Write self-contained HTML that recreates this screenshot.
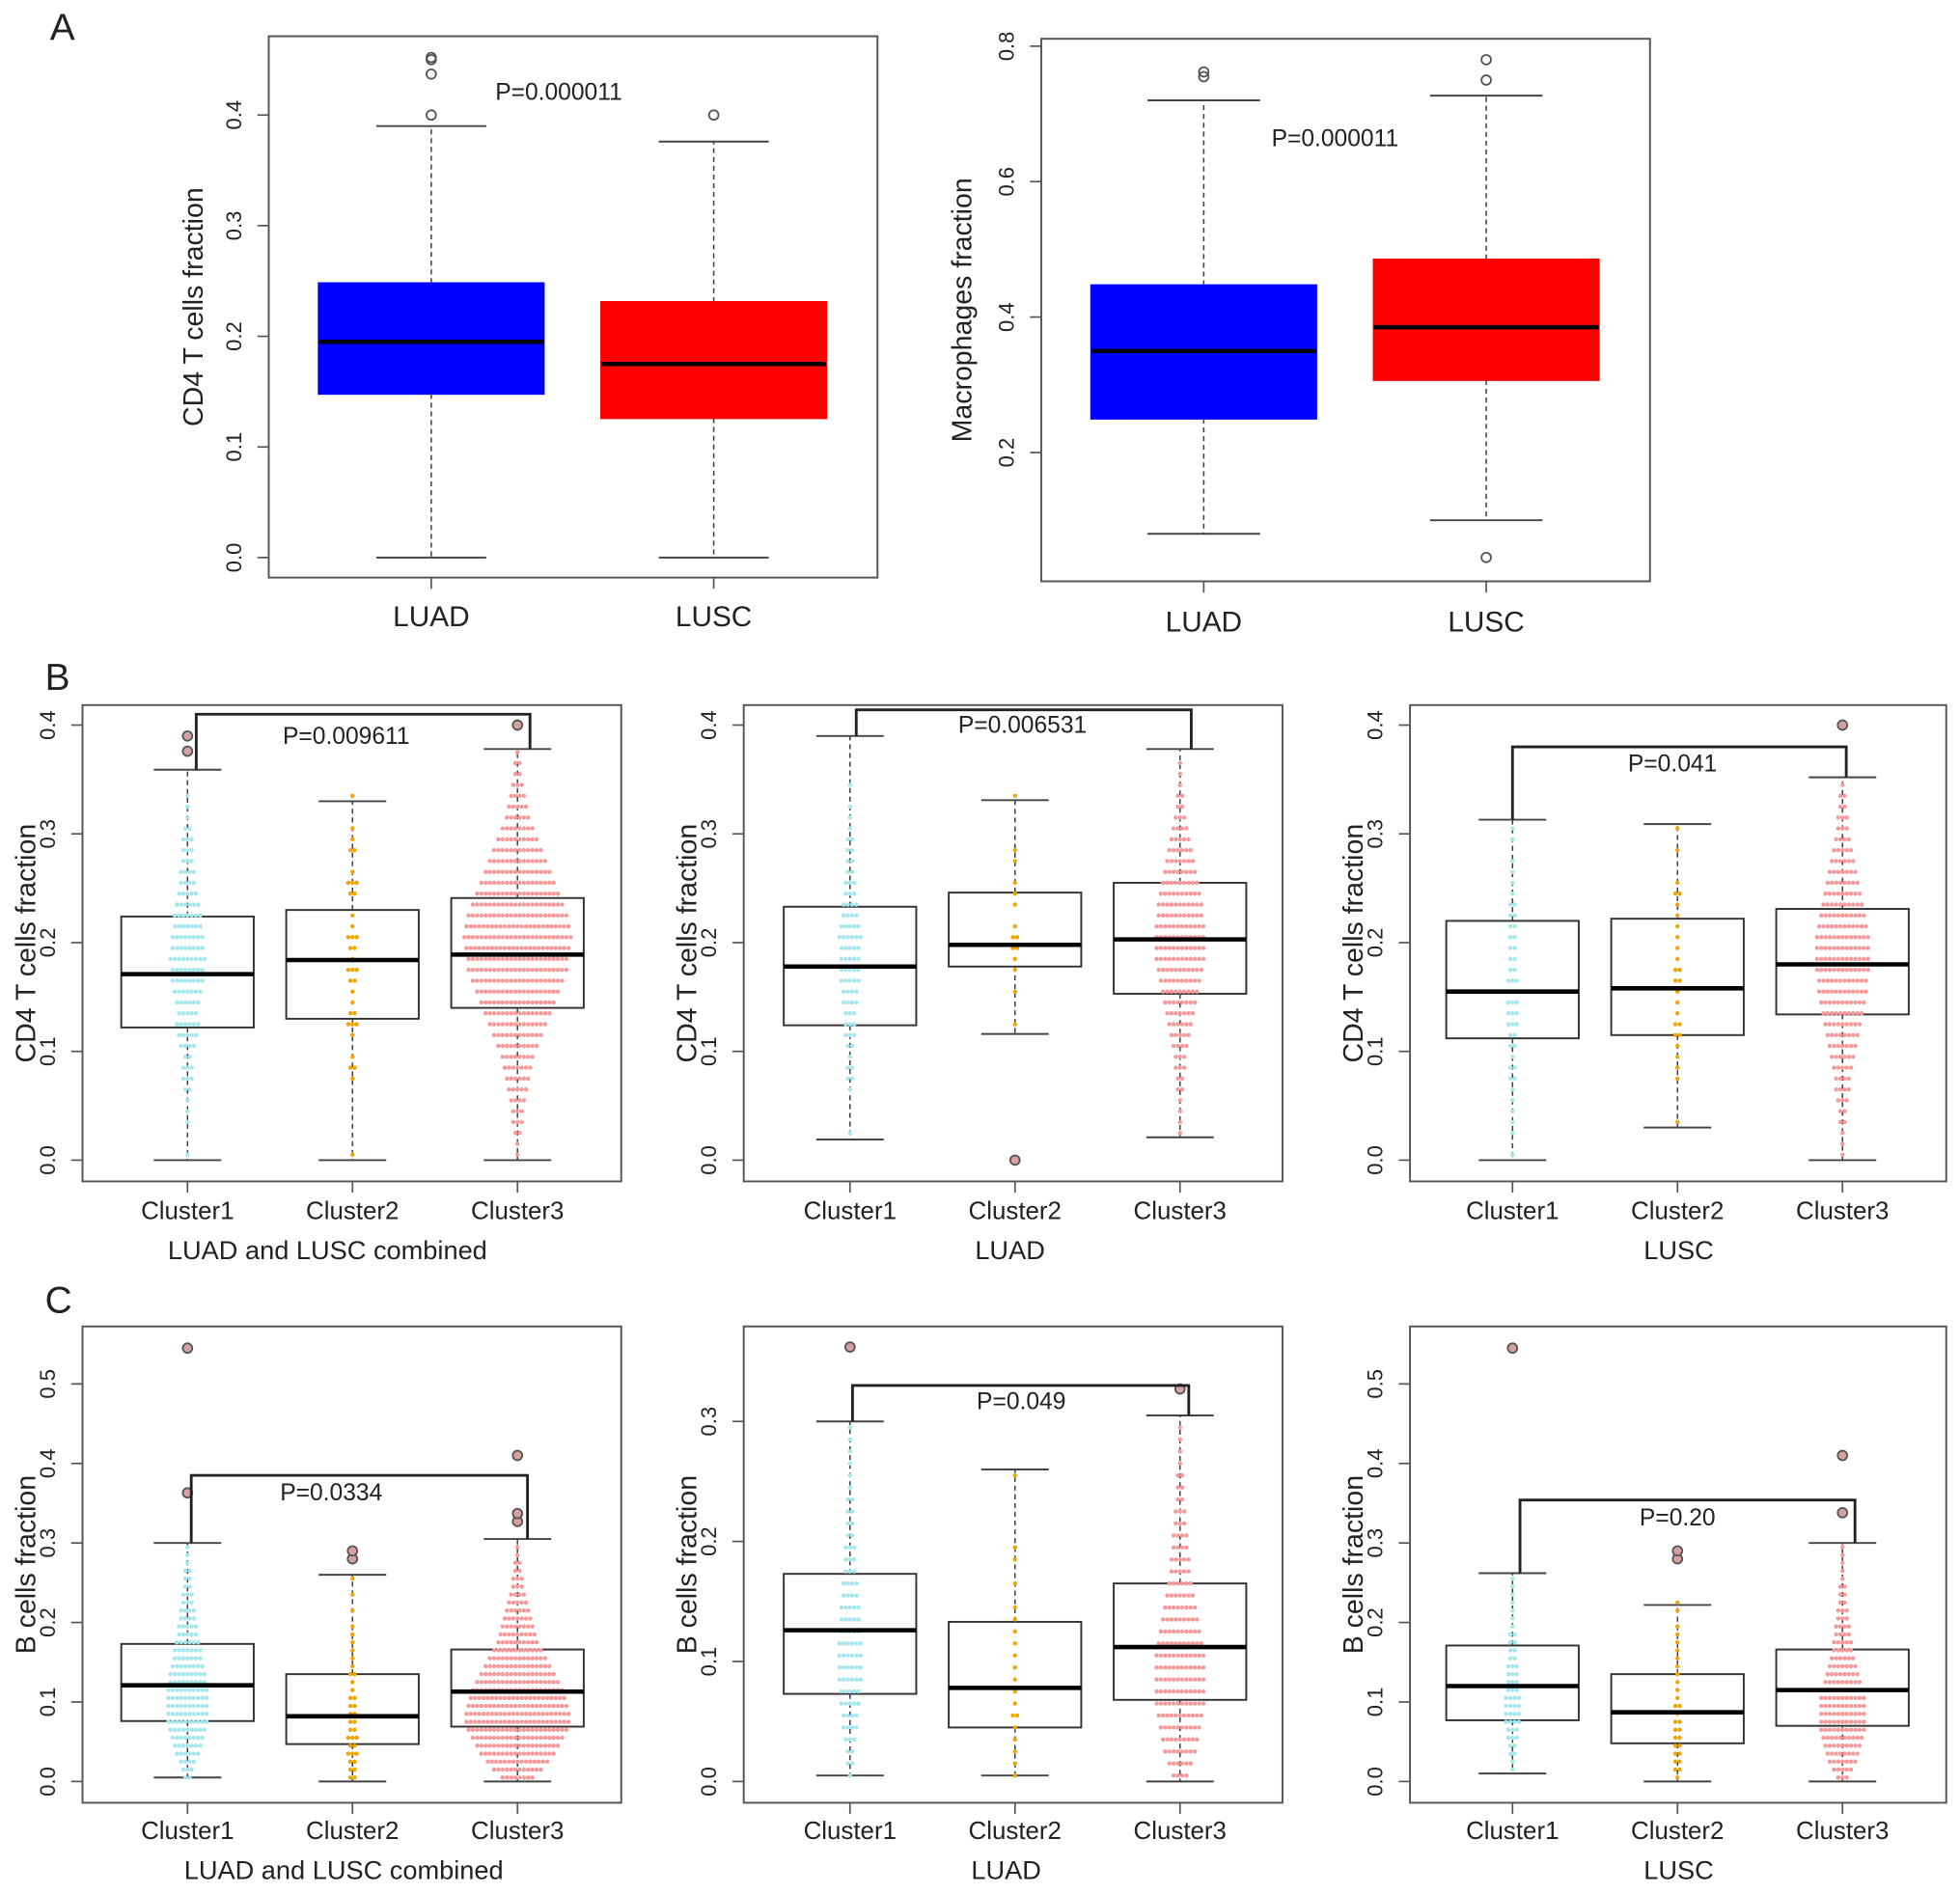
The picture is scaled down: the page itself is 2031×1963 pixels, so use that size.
<!DOCTYPE html>
<html><head><meta charset="utf-8"><style>
html,body{margin:0;padding:0;background:#fff}
svg{display:block}
text{font-family:"Liberation Sans",sans-serif;fill:#222}
</style></head><body>
<svg id="fig" xmlns="http://www.w3.org/2000/svg" width="2031" height="1963" viewBox="0 0 1568 1515" preserveAspectRatio="none">
<rect width="1568" height="1515" fill="#fff"/>
<text x="40" y="32" font-size="30">A</text>
<text x="36" y="552" font-size="30">B</text>
<text x="36" y="1050" font-size="30">C</text>
</svg>
<script>
// ---- data ----
const groupsA = ["LUAD","LUSC"];
const clusters = ["Cluster1","Cluster2","Cluster3"];
const a1Q1=[0.148,0.126], a1Med=[0.195,0.175], a1Q3=[0.248,0.231], a1Lo=[0,0], a1Hi=[0.39,0.376];
const a1Out=[[0.40,0.437,0.45,0.452],[0.40]];
const a2Q1=[0.25,0.307], a2Med=[0.35,0.385], a2Q3=[0.447,0.485], a2Lo=[0.08,0.10], a2Hi=[0.72,0.727];
const a2Out=[[0.755,0.762],[0.75,0.78,0.045]];
const bcQ1=[0.122,0.13,0.14], bcMed=[0.171,0.184,0.189], bcQ3=[0.224,0.23,0.241], bcLo=[0,0,0], bcHi=[0.359,0.33,0.378], bcOut=[[0.376,0.39],[],[0.40]];
const blQ1=[0.124,0.178,0.153], blMed=[0.178,0.198,0.203], blQ3=[0.233,0.246,0.255], blLo=[0.019,0.116,0.021], blHi=[0.39,0.331,0.378], blOut=[[],[0.0],[]];
const bsQ1=[0.112,0.115,0.134], bsMed=[0.155,0.158,0.18], bsQ3=[0.22,0.222,0.231], bsLo=[0,0.03,0], bsHi=[0.313,0.309,0.352], bsOut=[[],[],[0.40]];
const ccQ1=[0.076,0.047,0.069], ccMed=[0.121,0.082,0.113], ccQ3=[0.173,0.135,0.166], ccLo=[0.005,0,0], ccHi=[0.30,0.26,0.305], ccOut=[[0.363,0.545],[0.28,0.29],[0.327,0.337,0.41]];
const clQ1=[0.073,0.045,0.068], clMed=[0.126,0.078,0.112], clQ3=[0.173,0.133,0.165], clLo=[0.005,0.005,0], clHi=[0.30,0.26,0.305], clOut=[[0.362],[],[0.327]];
const csQ1=[0.077,0.048,0.07], csMed=[0.12,0.087,0.115], csQ3=[0.171,0.135,0.166], csLo=[0.01,0,0], csHi=[0.262,0.222,0.30], csOut=[[0.545],[0.28,0.29],[0.338,0.41]];
const bc1=[1,0,0,1,1,1,2,3,3,2,4,5,6,5,6,7,8,8,9,8,8,7,7,6,5,4,4,3,3,3,2,1,1,1,0,0];
const bc2=[1,0,0,0,0,0,0,1,2,1,0,1,3,2,1,1,2,3,1,2,3,1,1,0,2,3,1,0,2,1,1,0,0,1];
const bc3=[1,1,2,3,3,4,5,6,7,8,10,12,14,16,18,20,22,24,24,25,26,25,24,22,20,18,16,14,12,10,8,6,5,4,3,2,2,1];
const bl1=[0,0,1,0,0,0,1,2,2,1,2,3,3,3,4,4,5,5,5,5,6,5,4,4,3,3,2,2,2,2,1,1,1,0,1,0,0,0];
const bl2=[0,0,0,0,0,0,0,0,0,0,0,0,1,0,0,1,0,1,1,2,2,1,0,1,1,1,0,1,1,0,0,0,0,1];
const bl3=[0,0,1,1,1,1,2,2,3,3,4,5,6,7,8,9,10,11,12,12,12,12,11,11,10,9,8,7,6,5,4,3,2,2,1,1,1];
const bs1=[1,0,1,1,1,1,1,2,2,1,2,2,3,3,3,3,3,2,2,2,2,2,2,2,1,1,1,1,0,1,1];
const bs2=[0,0,0,1,0,0,0,1,1,1,1,2,2,1,1,1,2,2,1,1,1,1,1,1,2,1,0,0,1,0,1];
const bs3=[1,1,1,2,2,3,4,4,5,6,7,8,9,10,11,12,12,13,13,13,13,12,11,10,9,8,7,6,5,4,3,3,2,2,1];
const cc1=[2,3,4,6,7,8,9,10,10,10,10,10,9,9,8,7,7,6,5,5,4,4,3,3,2,2,2,1,1,1];
const cc2=[2,2,2,3,2,3,2,2,2,2,2,1,1,2,1,1,1,1,1,1,0,1,0,1,0,1];
const cc3=[8,12,15,18,20,22,24,25,25,24,23,22,20,18,16,14,12,10,9,8,7,6,5,4,3,3,2,2,1,1];
const cl1=[1,2,2,3,4,4,5,5,6,6,6,6,5,5,5,4,4,3,3,3,2,2,2,2,1,1,1,1,1,1];
const cl2=[1,1,1,1,1,2,1,1,1,1,1,1,1,1,1,0,1,0,1,1,0,0,0,0,0,1];
const cl3=[4,6,8,9,10,11,12,12,12,12,12,11,10,9,8,7,6,5,5,4,4,3,3,2,2,2,1,1,1,1];
const cs1=[0,1,1,2,2,3,3,4,4,4,4,3,3,3,3,2,2,2,2,1,1,1,1,1,1,1];
const cs2=[1,2,2,2,2,2,2,2,1,2,1,1,1,1,1,1,1,1,1,1,0,1,1];
const cs3=[3,5,7,8,9,10,11,11,11,11,11,10,9,8,7,6,5,5,4,4,3,3,2,2,2,1,1,1,1,1];
const pA1="P=0.000011", pA2="P=0.000011";
const pVals=["P=0.009611","P=0.006531","P=0.041","P=0.0334","P=0.049","P=0.20"];

// ---- drawing ----
const svg=document.getElementById('fig');
const NS="http://www.w3.org/2000/svg";
function mk(tag,attrs,name,parent){
  const e=document.createElementNS(NS,tag);
  for(const k in attrs)e.setAttribute(k,attrs[k]);
  
  
  (parent||svg).appendChild(e);return e;
}
const swarmCols=['#a6e6ee','#f2a500','#f59a9a'];
function panel(p){
  const g=mk('g',{},p.name);
  const y=v=>p.zero - v*p.k;
  mk('rect',{x:p.x0,y:p.y0,width:p.x1-p.x0,height:p.y1-p.y0,fill:'none',stroke:'#555','stroke-width':1.5},'plot-frame',g);
  p.ticks.forEach(t=>{
    mk('line',{x1:p.x0-9,x2:p.x0,y1:y(t),y2:y(t),stroke:'#555','stroke-width':1.3},'y-tick',g);
    const tx=p.x0-22, ty=y(t);
    const tt=mk('text',{x:tx,y:ty,'font-size':17,'text-anchor':'middle',transform:`rotate(-90 ${tx} ${ty})`},'y-tick-label',g);
    tt.textContent=t.toFixed(1);
  });
  const yl=mk('text',{x:p.ylx,y:(p.y0+p.y1)/2,'font-size':22,'text-anchor':'middle',transform:`rotate(-90 ${p.ylx} ${(p.y0+p.y1)/2})`},'y-axis-title',g);
  yl.textContent=p.ylab;
  p.cats.forEach((c,i)=>{
    const cx=p.cx[i];
    mk('line',{x1:cx,x2:cx,y1:p.y1,y2:p.y1+9,stroke:'#555','stroke-width':1.3},'x-tick',g);
    const xt=mk('text',{x:cx,y:p.xly,'font-size':p.xfs,'text-anchor':'middle'},'x-tick-label',g);
    xt.textContent=c;
    const fill=p.fills?p.fills[i]:'none';
    mk('rect',{x:cx-p.hw,y:y(p.q3[i]),width:2*p.hw,height:y(p.q1[i])-y(p.q3[i]),fill:fill,stroke:p.fills?fill:'#333','stroke-width':1.5},'box-'+c.toLowerCase(),g);
    mk('line',{x1:cx,x2:cx,y1:y(p.q3[i]),y2:y(p.hi[i]),stroke:'#444','stroke-width':1.2,'stroke-dasharray':'4,3'},'upper-whisker',g);
    mk('line',{x1:cx,x2:cx,y1:y(p.q1[i]),y2:y(p.lo[i]),stroke:'#444','stroke-width':1.2,'stroke-dasharray':'4,3'},'lower-whisker',g);
    mk('line',{x1:cx-p.cap,x2:cx+p.cap,y1:y(p.hi[i]),y2:y(p.hi[i]),stroke:'#444','stroke-width':1.5},'whisker-cap',g);
    mk('line',{x1:cx-p.cap,x2:cx+p.cap,y1:y(p.lo[i]),y2:y(p.lo[i]),stroke:'#444','stroke-width':1.5},'whisker-cap',g);
    if(p.swarm){
      const cnt=p.swarm[i];
      cnt.forEach((n,b)=>{
        const v=(b+0.5)*0.01;
        for(let j=0;j<n;j++){
          const dx=(j-(n-1)/2)*3.4;
          mk('circle',{cx:cx+dx,cy:y(v),r:1.7,fill:swarmCols[i]},'swarm-point',g);
        }
      });
    }
    mk('line',{x1:cx-p.hw,x2:cx+p.hw,y1:y(p.med[i]),y2:y(p.med[i]),stroke:'#000','stroke-width':3.5},'median-line',g);
    p.out[i].forEach(v=>{
      mk('circle',{cx:cx,cy:y(v),r:3.8,fill:p.swarm?'#d9a0a0':'none',stroke:'#555','stroke-width':1.4},'outlier-point',g);
    });
  });
  if(p.br){
    const by=y(p.br), a=p.cx[0]+p.brOff[0], b=p.cx[2]+p.brOff[1];
    mk('polyline',{points:`${a},${y(p.hi[0])} ${a},${by} ${b},${by} ${b},${y(p.hi[2])}`,fill:'none',stroke:'#222','stroke-width':2.2},'significance-bracket',g);
  }
  const pt=mk('text',{x:p.px,y:p.py,'font-size':19,'text-anchor':'middle'},'p-value-label',g);
  pt.textContent=p.ptxt;
  if(p.title){const t=mk('text',{x:p.tx||(p.x0+p.x1)/2,y:p.ty,'font-size':21,'text-anchor':'middle'},'x-axis-title',g);t.textContent=p.title;}
}
const t4=[0,0.1,0.2,0.3,0.4];
panel({name:'panel-a-cd4',x0:215,x1:702,y0:29,y1:462,zero:446,k:885,ticks:t4,ylab:'CD4 T cells fraction',ylx:162,cats:groupsA,cx:[345,571],xly:501,xfs:23,hw:90,cap:44,fills:['#0000ff','#ff0000'],q1:a1Q1,med:a1Med,q3:a1Q3,lo:a1Lo,hi:a1Hi,out:a1Out,px:447,py:80,ptxt:pA1});
panel({name:'panel-a-macrophages',x0:833,x1:1320,y0:31,y1:465,zero:470.3,k:541.7,ticks:[0.2,0.4,0.6,0.8],ylab:'Macrophages fraction',ylx:777,cats:groupsA,cx:[963,1189],xly:505,xfs:23,hw:90,cap:45,fills:['#0000ff','#ff0000'],q1:a2Q1,med:a2Med,q3:a2Q3,lo:a2Lo,hi:a2Hi,out:a2Out,px:1068,py:117,ptxt:pA2});
const B={y0:564,y1:945,zero:928,k:870,ticks:t4,ylab:'CD4 T cells fraction',cats:clusters,xly:975,xfs:20,hw:53,cap:27,ty:1007};
panel(Object.assign({},B,{name:'panel-b-combined',x0:66,x1:497,ylx:28,cx:[150,282,414],q1:bcQ1,med:bcMed,q3:bcQ3,lo:bcLo,hi:bcHi,out:bcOut,swarm:[bc1,bc2,bc3],br:0.41,brOff:[7,10],px:277,py:595,ptxt:pVals[0],title:'LUAD and LUSC combined',tx:262}));
panel(Object.assign({},B,{name:'panel-b-luad',x0:595,x1:1026,ylx:557,cx:[680,812,944],q1:blQ1,med:blMed,q3:blQ3,lo:blLo,hi:blHi,out:blOut,swarm:[bl1,bl2,bl3],br:0.414,brOff:[5,9],px:818,py:586,ptxt:pVals[1],title:'LUAD',tx:808}));
panel(Object.assign({},B,{name:'panel-b-lusc',x0:1128,x1:1557,ylx:1090,cx:[1210,1342,1474],q1:bsQ1,med:bsMed,q3:bsQ3,lo:bsLo,hi:bsHi,out:bsOut,swarm:[bs1,bs2,bs3],br:0.38,brOff:[0,3],px:1338,py:617,ptxt:pVals[2],title:'LUSC',tx:1343}));
const C={y0:1061,y1:1442,zero:1425,cats:clusters,xly:1471,xfs:20,hw:53,cap:27,ty:1503,ylab:'B cells  fraction'};
const t5=[0,0.1,0.2,0.3,0.4,0.5];
panel(Object.assign({},C,{name:'panel-c-combined',x0:66,x1:497,k:636,ticks:t5,ylx:28,cx:[150,282,414],q1:ccQ1,med:ccMed,q3:ccQ3,lo:ccLo,hi:ccHi,out:ccOut,swarm:[cc1,cc2,cc3],br:0.385,brOff:[3,8],px:265,py:1200,ptxt:pVals[3],title:'LUAD and LUSC combined',tx:275}));
panel(Object.assign({},C,{name:'panel-c-luad',x0:595,x1:1026,k:960,ticks:[0,0.1,0.2,0.3],ylx:557,cx:[680,812,944],q1:clQ1,med:clMed,q3:clQ3,lo:clLo,hi:clHi,out:clOut,swarm:[cl1,cl2,cl3],br:0.33,brOff:[2,7],px:817,py:1127,ptxt:pVals[4],title:'LUAD',tx:805}));
panel(Object.assign({},C,{name:'panel-c-lusc',x0:1128,x1:1557,k:636,ticks:t5,ylx:1090,cx:[1210,1342,1474],q1:csQ1,med:csMed,q3:csQ3,lo:csLo,hi:csHi,out:csOut,swarm:[cs1,cs2,cs3],br:0.354,brOff:[6,10],px:1342,py:1220,ptxt:pVals[5],title:'LUSC',tx:1343}));
</script>
</body></html>
